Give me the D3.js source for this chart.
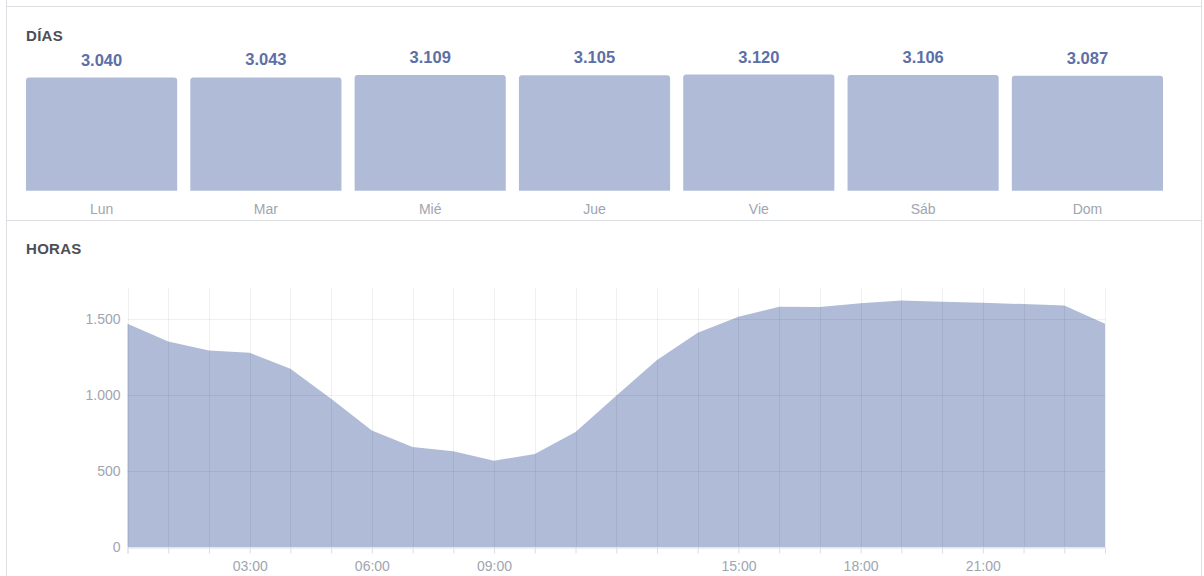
<!DOCTYPE html>
<html>
<head>
<meta charset="utf-8">
<script src="https://cdn.jsdelivr.net/npm/d3@7"></script>
<style>
  html, body { margin: 0; padding: 0; background: #fff; }
  svg { display: block; font-family: "Liberation Sans", Arial, Helvetica, sans-serif; }
</style>
</head>
<body>
<svg id="chart" width="1204" height="576"></svg>
<script>
// ---- data ----
const days = ["Lun", "Mar", "Mié", "Jue", "Vie", "Sáb", "Dom"];
const dayValues = [3040, 3043, 3109, 3105, 3120, 3106, 3087];

const hours = [0, 1, 2, 3, 4, 5, 6, 7, 8, 9, 10, 11, 12, 13, 14, 15, 16, 17, 18, 19, 20, 21, 22, 23, 24];
const hourValues = [1467, 1350, 1291, 1276, 1171, 975, 767, 658, 630, 568, 612, 756, 995, 1229, 1408, 1513, 1579, 1576, 1601, 1620, 1612, 1605, 1596, 1587, 1467];

const hourTickLabels = [3, 6, 9, 15, 18, 21];
const yTickValues = [0, 500, 1000, 1500];

const titleDays = "DÍAS";
const titleHours = "HORAS";

// ---- styles ----
const barColor = "#b0bcd7";
const valueColor = "#5d6fa6";
const labelColor = "#a0a5b0";
const titleColor = "#4b4f56";
const borderColor = "#dddfe2";

const locale = d3.formatLocale({ decimal: ",", thousands: ".", grouping: [3], currency: ["", "€"] });
const fmt = locale.format(",");

const svg = d3.select("#chart");

// panel borders
svg.append("line").attr("x1", 6.5).attr("x2", 6.5).attr("y1", 0).attr("y2", 576).attr("stroke", borderColor);
svg.append("line").attr("x1", 1201.5).attr("x2", 1201.5).attr("y1", 0).attr("y2", 576).attr("stroke", borderColor);
svg.append("line").attr("x1", 6.5).attr("x2", 1201.5).attr("y1", 6.5).attr("y2", 6.5).attr("stroke", borderColor);
svg.append("line").attr("x1", 6.5).attr("x2", 1201.5).attr("y1", 220.5).attr("y2", 220.5).attr("stroke", borderColor);

// titles
svg.append("text").attr("x", 26).attr("y", 41).text(titleDays)
  .attr("fill", titleColor).attr("font-size", 15).attr("font-weight", "bold").attr("letter-spacing", 0.3);
svg.append("text").attr("x", 26).attr("y", 254).text(titleHours)
  .attr("fill", titleColor).attr("font-size", 15).attr("font-weight", "bold").attr("letter-spacing", 0.3);

// ---- bar chart ----
const xb = d3.scaleBand().domain(days).range([26, 1163]).paddingInner(0.08).paddingOuter(0);
const yb = d3.scaleLinear().domain([0, 3120]).range([190.7, 74.6]);

function topRoundedBar(x, y, w, h, r) {
  const p = d3.path();
  p.moveTo(x, y + h);
  p.lineTo(x, y + r);
  p.arcTo(x, y, x + r, y, r);
  p.lineTo(x + w - r, y);
  p.arcTo(x + w, y, x + w, y + r, r);
  p.lineTo(x + w, y + h);
  p.closePath();
  return p.toString();
}

const bars = svg.append("g");
bars.selectAll("path").data(days).join("path")
  .attr("d", (d, i) => topRoundedBar(xb(d), yb(dayValues[i]), xb.bandwidth(), yb(0) - yb(dayValues[i]), 3))
  .attr("fill", barColor);

bars.selectAll("text.val").data(days).join("text").attr("class", "val")
  .attr("x", d => xb(d) + xb.bandwidth() / 2)
  .attr("y", (d, i) => yb(dayValues[i]) - 12)
  .attr("text-anchor", "middle")
  .attr("font-size", 16.5).attr("font-weight", "bold").attr("fill", valueColor)
  .text((d, i) => fmt(dayValues[i]));

bars.selectAll("text.day").data(days).join("text").attr("class", "day")
  .attr("x", d => xb(d) + xb.bandwidth() / 2)
  .attr("y", 213.5)
  .attr("text-anchor", "middle")
  .attr("font-size", 14).attr("fill", labelColor)
  .text(d => d);

// ---- area chart ----
const xh = d3.scaleLinear().domain([0, 24]).range([127.5, 1105]);
const yh = d3.scaleLinear().domain([0, 1706]).range([547.3, 287.3]);

const area = d3.area()
  .x((d, i) => xh(hours[i]))
  .y0(yh(0))
  .y1((d, i) => yh(hourValues[i]));

svg.append("path").datum(hourValues).attr("d", area).attr("fill", barColor);

// grid on top (semi-transparent)
const grid = svg.append("g").attr("stroke", "#000").attr("stroke-opacity", 0.06);
grid.selectAll("line.v").data(hours).join("line").attr("class", "v")
  .attr("x1", d => Math.round(xh(d)) + 0.5).attr("x2", d => Math.round(xh(d)) + 0.5)
  .attr("y1", yh.range()[1]).attr("y2", yh(0));
grid.selectAll("line.h").data(yTickValues.filter(v => v > 0)).join("line").attr("class", "h")
  .attr("x1", xh(0)).attr("x2", xh(24))
  .attr("y1", d => Math.round(yh(d)) + 0.5).attr("y2", d => Math.round(yh(d)) + 0.5);

// x axis
const xAxis = d3.axisBottom(xh)
  .tickValues(hours)
  .tickSize(6)
  .tickFormat(h => hourTickLabels.includes(h) ? String(h).padStart(2, "0") + ":00" : "");
const gx = svg.append("g").attr("transform", `translate(0,${Math.round(yh(0)) + 0.5})`).call(xAxis);
gx.select(".domain").attr("stroke", "#dcdee3");
gx.selectAll(".tick line").attr("stroke", "#dcdee3");
gx.selectAll(".tick text").attr("fill", labelColor).attr("font-size", 14)
  .attr("font-family", "Liberation Sans, Arial, sans-serif").attr("dy", "1.05em");

// y axis
const yAxis = d3.axisLeft(yh).tickValues(yTickValues).tickSize(0).tickPadding(7).tickFormat(fmt);
const gy = svg.append("g").attr("transform", `translate(${xh(0)},0)`).call(yAxis);
gy.select(".domain").remove();
gy.selectAll(".tick text").attr("fill", labelColor).attr("font-size", 14)
  .attr("font-family", "Liberation Sans, Arial, sans-serif");
</script>
</body>
</html>
